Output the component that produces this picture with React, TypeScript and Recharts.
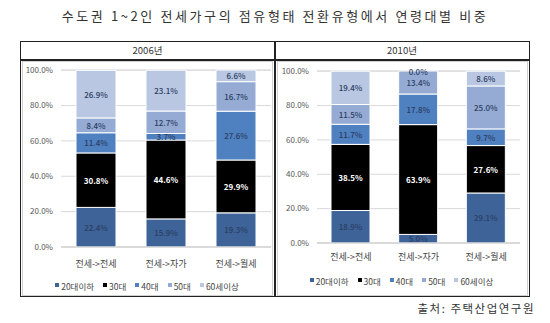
import React from "react";
import { BarChart, Bar, XAxis, YAxis, CartesianGrid, LabelList } from "recharts";

const title = "수도권 1~2인 전세가구의 점유형태 전환유형에서 연령대별 비중";
const years = ["2006년", "2010년"];
const categories = ["전세->전세", "전세->자가", "전세->월세"];
const seriesNames = ["20대이하", "30대", "40대", "50대", "60세이상"];
const seriesColors = ["#3d6399", "#000000", "#4f80c0", "#95abd3", "#b9c7e2"];
const yTicks = [0, 20, 40, 60, 80, 100];

// 2006 values per series (by category)
const v2006_20 = [22.4, 15.9, 19.3];
const v2006_30 = [30.8, 44.6, 29.9];
const v2006_40 = [11.4, 3.7, 27.6];
const v2006_50 = [8.4, 12.7, 16.7];
const v2006_60 = [26.9, 23.1, 6.6];

// 2010 values per series (by category)
const v2010_20 = [18.9, 5.0, 29.1];
const v2010_30 = [38.5, 63.9, 27.6];
const v2010_40 = [11.7, 17.8, 9.7];
const v2010_50 = [11.5, 13.4, 25.0];
const v2010_60 = [19.4, 0.0, 8.6];

const source = "출처: 주택산업연구원";

const FONT = "'Noto Sans CJK KR', 'Noto Sans', sans-serif";

function build(series: number[][]) {
  return categories.map((c, i) => {
    const row: any = { cat: c };
    series.forEach((s, k) => (row["s" + k] = s[i]));
    return row;
  });
}

const data2006 = build([v2006_20, v2006_30, v2006_40, v2006_50, v2006_60]);
const data2010 = build([v2010_20, v2010_30, v2010_40, v2010_50, v2010_60]);

const fmt = (v: any) => Number(v).toFixed(1) + "%";

const labelStyle = (k: number) => ({
  fontSize: 8,
  fontFamily: FONT,
  fontWeight: k === 1 ? 700 : 500,
  fill: k === 1 ? "#ffffff" : "#2c3e63",
});

const makeLabel = (k: number, data: any[]) => (p: any) => {
  const { x, y, width, height, value, index } = p;
  if (value === undefined || value === null) return null;
  const cx = Number(x) + Number(width) / 2;
  const cy = Number(y) + Number(height) / 2;
  const row = data[index];
  const nextKey = "s" + (k + 1);
  // a zero-height segment stacked directly on top gets its label drawn at this segment's top edge
  const nextZero = row && row[nextKey] === 0;
  return (
    <g>
      {Number(value) !== 0 && (
        <text x={cx} y={cy} textAnchor="middle" dominantBaseline="central" {...labelStyle(k)}>
          {fmt(value)}
        </text>
      )}
      {nextZero && (
        <text x={cx} y={Number(y)} textAnchor="middle" dominantBaseline="central" {...labelStyle(k + 1)}>
          {fmt(0)}
        </text>
      )}
    </g>
  );
};

function Panel(props: {
  data: any[];
  width: number;
  height: number;
  margin: any;
  yWidth: number;
  barSize: number;
  xHeight: number;
  xTickMargin: number;
}) {
  const { data, width, height, margin, yWidth, barSize, xHeight, xTickMargin } = props;
  return (
    <BarChart width={width} height={height} data={data} margin={margin} barSize={barSize}>
      <CartesianGrid vertical={false} stroke="#d9d9d9" />
      <XAxis
        dataKey="cat"
        tickLine={false}
        axisLine={{ stroke: "#c8c8c8" }}
        tick={{ fontSize: 9, fill: "#444", fontFamily: FONT }}
        tickMargin={xTickMargin}
        interval={0}
        height={xHeight}
      />
      <YAxis
        domain={[0, 100]}
        ticks={yTicks}
        tickFormatter={fmt}
        tickLine={false}
        axisLine={false}
        width={yWidth}
        tick={{ fontSize: 8, fill: "#555", fontFamily: FONT }}
        interval={0}
      />
      {seriesNames.map((n, k) => (
        <Bar
          key={n}
          dataKey={"s" + k}
          name={n}
          stackId="a"
          fill={seriesColors[k]}
          stroke="#ffffff"
          strokeWidth={1}
          isAnimationActive={false}
        >
          <LabelList dataKey={"s" + k} content={makeLabel(k, data)} />
        </Bar>
      ))}
    </BarChart>
  );
}

function LegendRow({ left, top, width }: { left: number; top: number; width: number }) {
  return (
    <div
      style={{
        position: "absolute",
        left,
        top,
        width,
        display: "flex",
        justifyContent: "center",
        gap: 9,
        fontSize: 8.5,
        fontFamily: FONT,
        color: "#444",
        lineHeight: "10px",
      }}
    >
      {seriesNames.map((n, k) => (
        <span key={n} style={{ display: "flex", alignItems: "center" }}>
          <span
            style={{
              display: "inline-block",
              width: 4,
              height: 4,
              background: seriesColors[k],
              marginRight: 2,
              marginTop: -3,
            }}
          />
          {n}
        </span>
      ))}
    </div>
  );
}

export default function App() {
  return (
    <div
      style={{
        position: "absolute",
        left: 0,
        top: 0,
        width: 550,
        height: 323,
        background: "#ffffff",
        fontFamily: FONT,
        overflow: "hidden",
      }}
    >
      <div
        style={{
          position: "absolute",
          left: 0,
          top: 6,
          width: 550,
          textAlign: "center",
          fontSize: 13,
          color: "#333",
          letterSpacing: 2.6,
          whiteSpace: "nowrap",
        }}
      >
        {title}
      </div>
      {/* outer table */}
      <div
        style={{
          position: "absolute",
          left: 20,
          top: 41,
          width: 508,
          height: 254,
          border: "1.5px solid #222",
        }}
      />
      <div style={{ position: "absolute", left: 20, top: 59, width: 510, height: 1.5, background: "#222" }} />
      <div style={{ position: "absolute", left: 274, top: 41, width: 1.5, height: 256, background: "#222" }} />
      {years.map((y, i) => (
        <div
          key={y}
          style={{
            position: "absolute",
            left: i === 0 ? 21 : 275,
            top: 43,
            width: i === 0 ? 253 : 254,
            textAlign: "center",
            fontSize: 9.5,
            color: "#333",
            lineHeight: "14px",
          }}
        >
          {y}
        </div>
      ))}
      {/* inner panel borders */}
      <div style={{ position: "absolute", left: 22, top: 61, width: 249, height: 233, border: "1px solid #d0d0d0" }} />
      <div style={{ position: "absolute", left: 277, top: 61, width: 249, height: 233, border: "1px solid #d0d0d0" }} />

      <div style={{ position: "absolute", left: 21, top: 60 }}>
        <Panel
          data={data2006}
          width={252}
          height={235}
          margin={{ top: 10, right: 2, left: 0, bottom: 18 }}
          yWidth={40}
          barSize={40}
          xHeight={30}
          xTickMargin={8}
        />
      </div>
      <div style={{ position: "absolute", left: 276, top: 60 }}>
        <Panel
          data={data2010}
          width={251}
          height={235}
          margin={{ top: 11, right: 7, left: 0, bottom: 22 }}
          yWidth={41}
          barSize={39}
          xHeight={30}
          xTickMargin={5}
        />
      </div>
      <LegendRow left={21} top={281} width={252} />
      <LegendRow left={276} top={276} width={251} />

      <div
        style={{
          position: "absolute",
          right: 15,
          top: 300,
          fontSize: 11.5,
          color: "#333",
          letterSpacing: 1.5,
        }}
      >
        {source}
      </div>
    </div>
  );
}
